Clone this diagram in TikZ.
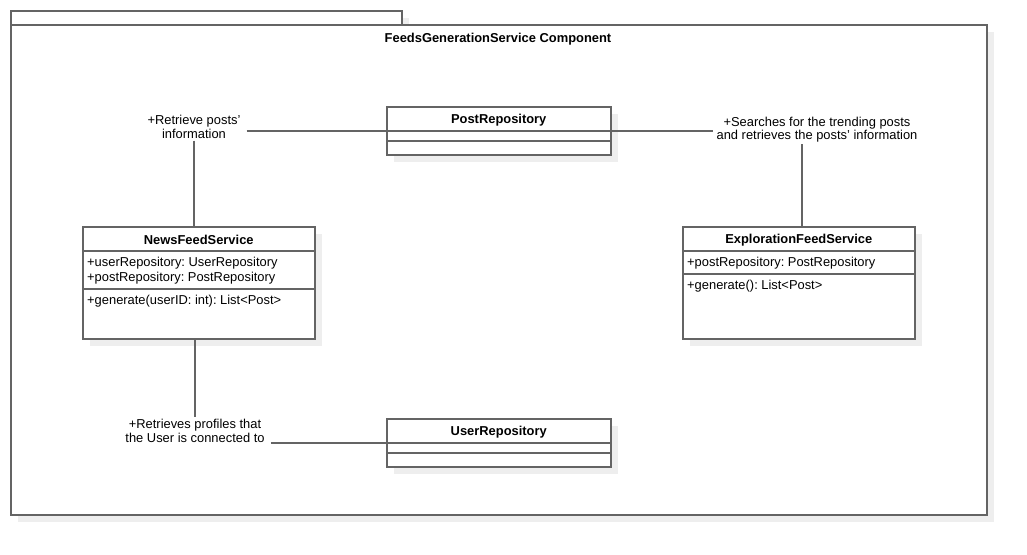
\documentclass[tikz,border=0pt]{standalone}
\usepackage{fontspec}
\setmainfont{Liberation Sans}
\usepackage{tikz}
\usetikzlibrary{positioning, calc, shadows}
\definecolor{linegray}{RGB}{100, 100, 100}
\definecolor{shadowgray}{RGB}{238, 238, 238}
\newcommand{\umlfont}{\fontsize{12.9}{15}\selectfont}
\newcommand{\notefont}{\fontsize{12.9}{13.3}\selectfont}
\frenchspacing

\tikzset{
  boxshadow/.style={drop shadow={shadow xshift=7pt, shadow yshift=-7pt, fill=shadowgray, opacity=1}},
  umlbox/.style={draw=linegray, line width=1.5pt, fill=white, anchor=north west, inner sep=0pt, boxshadow},
  classname/.style={font=\umlfont\bfseries},
  member/.style={font=\umlfont, anchor=west, align=left, inner sep=0pt},
  assoclabel/.style={font=\notefont, align=center, inner xsep=6pt, inner ysep=2pt},
  assoc/.style={draw=linegray, line width=1.5pt}
}

\begin{document}
\begin{tikzpicture}[x=1pt, y=-1pt]
  \useasboundingbox (0,0) rectangle (1027,554);

  % Component frame
  \node[umlbox, minimum width=391pt, minimum height=14pt] (tab) at (10,10) {};
  \node[umlbox, minimum width=976pt, minimum height=490pt] (frame) at (10,24) {};
  \node[classname] (title) at (498,39) {FeedsGenerationService Component};

  % PostRepository
  \node[umlbox, minimum width=224pt, minimum height=48pt] (post) at (386,106) {};
  \node[classname] (postname) at ($(post.north)+(0,14)$) {PostRepository};
  \draw[assoc] ($(post.north west)+(0,25)$) -- ($(post.north east)+(0,25)$);
  \draw[assoc] ($(post.north west)+(0,35)$) -- ($(post.north east)+(0,35)$);

  % UserRepository
  \node[umlbox, minimum width=224pt, minimum height=48pt] (user) at (386,418) {};
  \node[classname] (username) at ($(user.north)+(0,14)$) {UserRepository};
  \draw[assoc] ($(user.north west)+(0,25)$) -- ($(user.north east)+(0,25)$);
  \draw[assoc] ($(user.north west)+(0,35)$) -- ($(user.north east)+(0,35)$);

  % NewsFeedService
  \node[umlbox, minimum width=232pt, minimum height=112pt] (news) at (82,226) {};
  \node[classname] (newsname) at ($(news.north)+(0,14)$) {NewsFeedService};
  \draw[assoc] ($(news.north west)+(0,25)$) -- ($(news.north east)+(0,25)$);
  \node[member] (newsattr) at ($(news.north west)+(5,45)$) {+userRepository: UserRepository\\+postRepository: PostRepository};
  \draw[assoc] ($(news.north west)+(0,63)$) -- ($(news.north east)+(0,63)$);
  \node[member] (newsop) at ($(news.north west)+(5,75)$) {+generate(userID: int): List<Post>};

  % ExplorationFeedService
  \node[umlbox, minimum width=232pt, minimum height=112pt] (explore) at (682,226) {};
  \node[classname] (explorename) at ($(explore.north)+(0,14)$) {ExplorationFeedService};
  \draw[assoc] ($(explore.north west)+(0,25)$) -- ($(explore.north east)+(0,25)$);
  \node[member] (exploreattr) at ($(explore.north west)+(5,37)$) {+postRepository: PostRepository};
  \draw[assoc] ($(explore.north west)+(0,48)$) -- ($(explore.north east)+(0,48)$);
  \node[member] (exploreop) at ($(explore.north west)+(5,60)$) {+generate(): List<Post>};

  % Associations
  \node[assoclabel] (lblpost) at (194,127) {+Retrieve posts'\\information};
  \draw[assoc] (lblpost.east |- post.west) -- (post.west);
  \draw[assoc] (lblpost.south) -- (lblpost.south |- news.north);

  \node[assoclabel, inner xsep=3pt] (lblsearch) at (817,129.5) {+Searches for the trending posts\\and retrieves the posts' information};
  \draw[assoc] (post.east) -- (lblsearch.west |- post.east);
  \draw[assoc] ([xshift=-15pt]lblsearch.south) -- ([xshift=-15pt]lblsearch.south |- explore.north);

  \node[assoclabel] (lbluser) at (195,431) {+Retrieves profiles that\\the User is connected to};
  \draw[assoc] (lbluser.north |- news.south) -- (lbluser.north);
  \draw[assoc] (lbluser.east |- user.west) -- (user.west);
\end{tikzpicture}
\end{document}
